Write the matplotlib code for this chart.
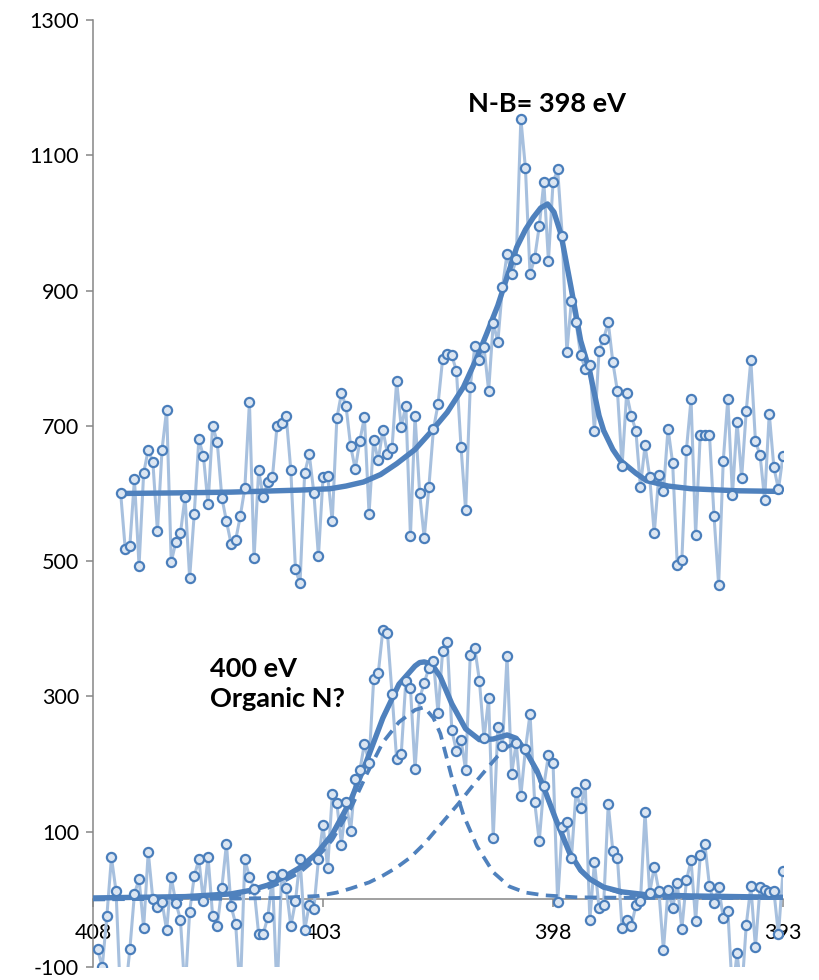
import numpy as np
import matplotlib
matplotlib.use('Agg')
import matplotlib.pyplot as plt

plt.rcParams['font.family'] = ['Lato', 'DejaVu Sans']
plt.rcParams['axes.unicode_minus'] = False

# upper spectrum (N-B), 0.1 eV steps from 407.4 eV
upper_E = np.round(407.4 - 0.1 * np.arange(145), 1)
upper_y = [601, 518, 523, 621, 493, 630, 665, 647, 544, 665,
           724, 499, 528, 541, 595, 475, 570, 680, 655, 584,
           700, 676, 594, 559, 526, 531, 566, 608, 735, 504,
           634, 595, 617, 624, 700, 704, 714, 634, 488, 467,
           630, 658, 601, 507, 624, 626, 559, 711, 748, 729,
           670, 636, 678, 713, 570, 679, 649, 694, 659, 667,
           766, 698, 730, 537, 715, 600, 534, 609, 695, 732,
           799, 806, 804, 781, 668, 575, 758, 818, 797, 816,
           752, 852, 824, 905, 954, 924, 946, 1154, 1081, 924,
           948, 995, 1060, 944, 1060, 1079, 981, 809, 885, 853,
           805, 784, 790, 692, 811, 829, 853, 794, 751, 640,
           748, 715, 693, 610, 671, 625, 541, 627, 603, 696,
           645, 495, 501, 665, 739, 539, 687, 687, 687, 566,
           465, 648, 740, 598, 706, 623, 722, 797, 677, 657,
           591, 718, 639, 606, 656]

# lower spectrum, 0.1 eV steps from 407.9 eV
lower_E = np.round(407.9 - 0.1 * np.arange(150), 1)
lower_y = [-74, -100, -25, 62, 12, -150, -140, -74, 8, 30,
           -42, 70, 0, -11, -4, -46, 33, -5, -30, -140,
           -18, 34, 59, -3, 63, -25, -40, 17, 82, -10,
           -36, -140, 59, 33, 16, -51, -51, -26, 34, -140,
           37, 17, -40, -3, 60, -46, -8, -14, 59, 110,
           46, 155, 142, 81, 144, 101, 178, 191, 230, 202,
           325, 334, 398, 394, 304, 207, 215, 323, 313, 192,
           297, 320, 342, 353, 275, 367, 380, 250, 219, 236,
           191, 361, 371, 323, 238, 297, 91, 255, 226, 359,
           186, 231, 153, 222, 274, 144, 86, 168, 213, 202,
           -4, 107, 115, 61, 159, 135, 170, -30, 55, -13,
           -8, 141, 71, 61, -42, -30, -40, -9, -3, 129,
           9, 48, 13, -75, 14, -13, 24, -44, 28, 58,
           -32, 65, 82, 20, -6, 18, -27, -17, -140, -80,
           -140, -38, 19, -71, 18, 14, 11, 13, -52, 42]

# fitted envelope of the upper spectrum
fitU_E = [407.4, 406.0, 405.0, 404.0, 403.5, 402.85, 402.5, 402.12, 401.75, 401.4,
          401.0, 400.67, 400.3, 399.95, 399.66, 399.45, 399.2, 399.0, 398.79, 398.6,
          398.43, 398.27, 398.12, 397.98, 397.83, 397.61, 397.4, 397.2, 397.0, 396.9,
          396.7, 396.54, 396.2, 395.97, 395.5, 395.0, 394.0, 393.0]
fitU_y = [600, 601, 602, 604, 605, 607, 611, 617, 628, 644,
          665, 690, 720, 757, 800, 835, 878, 920, 964, 990,
          1008, 1022, 1028, 1016, 984, 905, 826, 780, 715, 693,
          665, 649, 630, 619, 611, 607, 604, 603]

# lower spectrum: total fit and two components
fitL_E = [408.0, 407.0, 406.0, 405.5, 405.0, 404.6, 404.2, 403.9, 403.5, 403.15,
          402.8, 402.4, 402.05, 401.7, 401.35, 401.0, 400.9, 400.8, 400.7, 400.6,
          400.45, 400.2, 399.9, 399.6, 399.3, 399.0, 398.8, 398.6, 398.35, 398.2,
          397.95, 397.65, 397.4, 397.2, 396.9, 396.5, 396.0, 395.0, 394.0, 393.0]
fitL_y = [2, 3, 4, 6, 8, 13, 21, 31, 47, 67,
          96, 146, 205, 268, 318, 345, 350, 351, 349, 344,
          329, 289, 252, 236, 237, 243, 238, 220, 190, 165,
          120, 70, 43, 30, 18, 11, 7, 5, 4, 3]

comp1_E = [408.0, 406.0, 405.0, 404.6, 404.2, 403.9, 403.5, 403.15, 402.8, 402.4,
           402.05, 401.7, 401.35, 401.0, 400.8, 400.6, 400.45, 400.2, 399.95, 399.65,
           399.3, 398.95, 398.6, 398.2, 397.5, 396.0, 393.0]
comp1_y = [0, 1, 4, 10, 17, 25, 40, 60, 88, 134,
           185, 232, 262, 280, 284, 268, 245, 180, 125, 78,
           40, 19, 10, 6, 3, 2, 2]

comp2_E = [408.0, 405.0, 404.0, 403.1, 402.7, 402.4, 402.0, 401.7, 401.4, 401.1,
           400.8, 400.6, 400.3, 400.05, 399.7, 399.44, 399.2, 399.0, 398.85, 398.7,
           398.5, 398.3, 398.1, 397.9, 397.65, 397.4, 397.2, 396.9, 396.5, 396.0,
           395.0, 393.0]
comp2_y = [0, 1, 2, 5, 10, 16, 25, 35, 47, 62,
           82, 98, 122, 142, 172, 193, 212, 225, 230, 226,
           208, 178, 146, 112, 68, 42, 30, 17, 9, 5,
           3, 2]

dark = '#4f81bd'
light = '#a7c0de'
gray = '#868686'

fig = plt.figure(figsize=(8.19, 9.80), dpi=100)
ax = fig.add_axes([0.1136, 0.0133, 0.8425, 0.9663])

for E, y in [(upper_E, upper_y), (lower_E, lower_y)]:
    ax.plot(E, y, color=light, lw=2.2, zorder=2)

ax.plot(fitU_E, fitU_y, color=dark, lw=3.9, zorder=3, solid_capstyle='round',
        solid_joinstyle='round')
ax.plot(fitL_E, fitL_y, color=dark, lw=3.9, zorder=3, solid_capstyle='round',
        solid_joinstyle='round')
ax.plot(comp1_E, comp1_y, color=dark, lw=2.7, ls=(0, (3.2, 2.0)), zorder=3)
ax.plot(comp2_E, comp2_y, color=dark, lw=2.7, ls=(0, (3.2, 2.0)), zorder=3)

for E, y in [(upper_E, upper_y), (lower_E, lower_y)]:
    ax.plot(E, y, ls='none', marker='o', ms=6.6, mew=1.6, mec='#4a7ebb',
            mfc='#dce6f2', zorder=4)

ax.set_xlim(408, 393)
ax.set_ylim(-100, 1300)
ax.set_yticks(np.arange(-100, 1301, 200))
ax.set_xticks([408, 403, 398, 393])

for s in ['top', 'right']:
    ax.spines[s].set_visible(False)
ax.spines['left'].set_color(gray)
ax.spines['left'].set_linewidth(1.1)
ax.spines['bottom'].set_position(('data', 0))
ax.spines['bottom'].set_color(gray)
ax.spines['bottom'].set_linewidth(1.1)
ax.spines['bottom'].set_zorder(1)

ax.tick_params(axis='y', direction='out', length=5, width=1.1, color=gray,
               labelsize=15.5, pad=5)
ax.tick_params(axis='x', direction='out', length=6, width=1.1, color=gray,
               labelsize=15.5, pad=11)

ax.text(398.13, 1176, 'N-B= 398 eV', ha='center', va='center',
        fontsize=19.5, fontweight='bold')
ax.text(405.46, 318, '400 eV\nOrganic N?', ha='left', va='center',
        fontsize=19.5, fontweight='bold', linespacing=1.32)

fig.savefig('out.png', dpi=100)
